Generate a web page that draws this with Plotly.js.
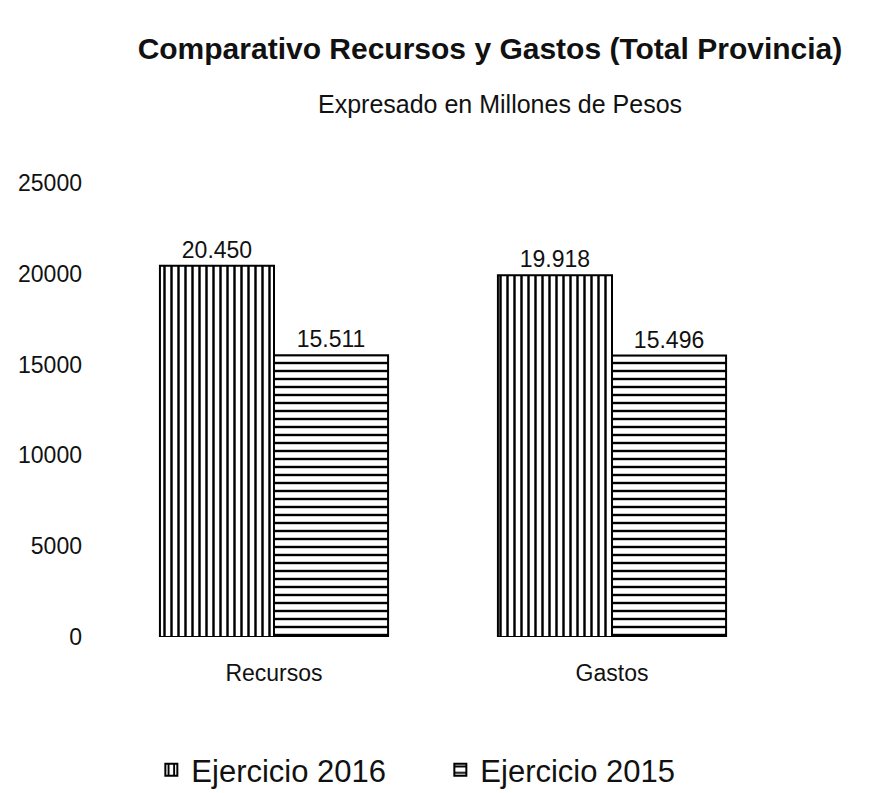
<!DOCTYPE html>
<html>
<head>
<meta charset="utf-8">
<script src="https://cdn.plot.ly/plotly-3.0.1.min.js"></script>
<style>html,body{margin:0;padding:0;background:#fff;}#chart{width:886px;height:793px;}</style>
</head>
<body>
<div id="chart"></div>
<script>
var categories = ["Recursos", "Gastos"];
var seriesNames = ["Ejercicio 2016", "Ejercicio 2015"];
var values2016 = [20450, 19918];
var values2015 = [15511, 15496];
var yTicks = [0, 5000, 10000, 15000, 20000, 25000];

var font = "Liberation Sans, Arial, sans-serif";

var traces = [
  {
    type: "bar", name: seriesNames[0], x: categories, y: values2016,
    texttemplate: "%{y:,.0f}", textposition: "outside", cliponaxis: false,
    textfont: {family: font, size: 23, color: "#111"},
    marker: {color: "#fff", line: {color: "#000", width: 2},
      pattern: {shape: "|", size: 7, solidity: 0.35, fgcolor: "#000", bgcolor: "#fff"}},
    hoverinfo: "none"
  },
  {
    type: "bar", name: seriesNames[1], x: categories, y: values2015,
    texttemplate: "%{y:,.0f}", textposition: "outside", cliponaxis: false,
    textfont: {family: font, size: 23, color: "#111"},
    marker: {color: "#fff", line: {color: "#000", width: 2},
      pattern: {shape: "-", size: 8, solidity: 0.3, fgcolor: "#000", bgcolor: "#fff"}},
    hoverinfo: "none"
  }
];

var layout = {
  width: 886, height: 793,
  margin: {l: 105, r: 105, t: 183, b: 156},
  paper_bgcolor: "#fff", plot_bgcolor: "#fff",
  separators: ",.",
  font: {family: font, color: "#111"},
  title: {text: "Comparativo Recursos y Gastos (Total Provincia)",
    font: {family: font, size: 30, weight: "bold", color: "#111"},
    x: 0.553, xanchor: "center", y: 1 - 48/793, yanchor: "middle", xref: "container", yref: "container"},
  annotations: [{text: "Expresado en Millones de Pesos", xref: "paper", yref: "paper",
    x: (500 - 105) / 676, y: (637 - 104) / 454, xanchor: "center", yanchor: "middle", showarrow: false,
    font: {family: font, size: 25, color: "#111"}}],
  barmode: "group", bargap: 0.325, bargroupgap: 0,
  xaxis: {range: [-0.5, 1.5], showgrid: false, zeroline: false, showline: false,
    ticks: "", ticklabelstandoff: 20, tickfont: {family: font, size: 23, color: "#111"}},
  yaxis: {range: [0, 25000], tickvals: yTicks, tickformat: "d", showgrid: false, zeroline: false,
    showline: false, ticks: "", ticklabelstandoff: 22, tickfont: {family: font, size: 23, color: "#111"}},
  showlegend: true,
  legend: {orientation: "h", x: 0.497, xref: "container", xanchor: "center", y: 1 - 770/793, yref: "container", yanchor: "middle",
    font: {family: font, size: 31, color: "#111"}, itemwidth: 30, entrywidth: 244, tracegroupgap: 0, itemclick: false}
};

Plotly.newPlot("chart", traces, layout, {staticPlot: true, displayModeBar: false});
</script>
</body>
</html>
